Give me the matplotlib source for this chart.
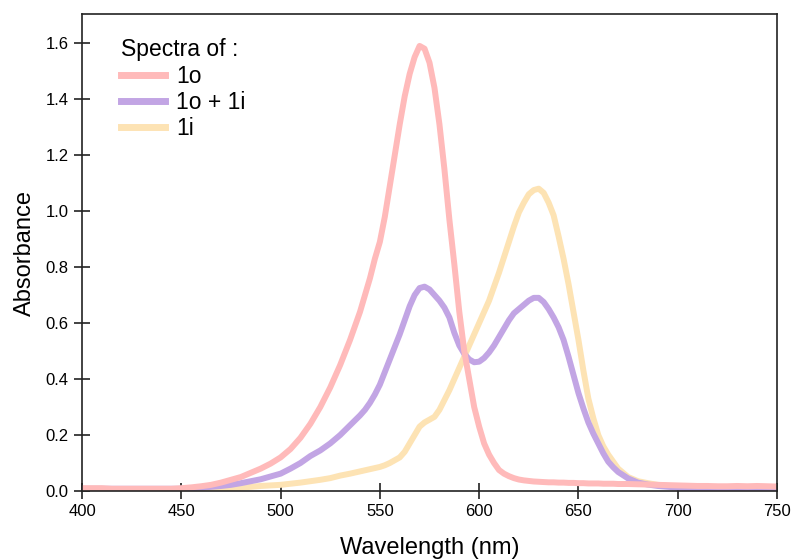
import matplotlib
matplotlib.use("Agg")
import matplotlib.pyplot as plt
import numpy as np

plt.rcParams['font.family'] = ['Liberation Sans', 'DejaVu Sans']

wavelength = (list(np.arange(400, 541, 5.0))
              + list(np.arange(542.5, 670.1, 2.5))
              + list(np.arange(675, 751, 5.0)))

abs_1o = [0.010, 0.010, 0.010, 0.008, 0.008, 0.008, 0.008, 0.008, 0.008, 0.008,
          0.010, 0.013, 0.017, 0.022, 0.030, 0.040, 0.050, 0.065, 0.080, 0.098,
          0.120, 0.150, 0.190, 0.240, 0.300, 0.370, 0.450, 0.540, 0.640,
          0.700, 0.760, 0.830, 0.890, 0.980, 1.090, 1.200, 1.310, 1.410, 1.490,
          1.550, 1.590, 1.580, 1.530, 1.440, 1.310, 1.150, 0.970, 0.810, 0.640,
          0.500, 0.400, 0.300, 0.230, 0.170, 0.130, 0.100, 0.075, 0.062, 0.053,
          0.046, 0.041, 0.038, 0.036, 0.034, 0.033, 0.032, 0.031, 0.031, 0.030,
          0.030, 0.029, 0.029, 0.028, 0.028, 0.027, 0.027, 0.027, 0.026, 0.026,
          0.026, 0.025,
          0.025, 0.024, 0.023, 0.022, 0.021, 0.020, 0.019, 0.018, 0.018, 0.017,
          0.017, 0.018, 0.017, 0.018, 0.017, 0.016]

abs_1o_1i = [0.008, 0.008, 0.008, 0.008, 0.008, 0.008, 0.008, 0.008, 0.008, 0.008,
             0.008, 0.010, 0.012, 0.015, 0.018, 0.022, 0.028, 0.035, 0.042, 0.052,
             0.062, 0.080, 0.100, 0.125, 0.145, 0.170, 0.200, 0.235, 0.270,
             0.290, 0.315, 0.345, 0.380, 0.425, 0.470, 0.515, 0.560, 0.610, 0.660,
             0.700, 0.725, 0.730, 0.720, 0.700, 0.680, 0.655, 0.620, 0.565, 0.520,
             0.490, 0.470, 0.460, 0.462, 0.475, 0.495, 0.520, 0.550, 0.580, 0.610,
             0.635, 0.650, 0.665, 0.680, 0.690, 0.690, 0.675, 0.650, 0.620, 0.585,
             0.540, 0.480, 0.415, 0.350, 0.295, 0.245, 0.205, 0.170, 0.135, 0.105,
             0.085, 0.068,
             0.045, 0.030, 0.023, 0.018, 0.015, 0.012, 0.010, 0.008, 0.007, 0.007,
             0.007, 0.008, 0.008, 0.010, 0.010, 0.010]

abs_1i = [0.006, 0.006, 0.006, 0.006, 0.006, 0.006, 0.006, 0.006, 0.006, 0.006,
          0.006, 0.006, 0.007, 0.008, 0.009, 0.010, 0.012, 0.015, 0.018, 0.020,
          0.022, 0.026, 0.030, 0.035, 0.040, 0.046, 0.055, 0.062, 0.070,
          0.074, 0.078, 0.082, 0.086, 0.092, 0.100, 0.110, 0.120, 0.140, 0.170,
          0.200, 0.230, 0.245, 0.255, 0.265, 0.290, 0.325, 0.360, 0.400, 0.440,
          0.480, 0.520, 0.560, 0.600, 0.640, 0.680, 0.730, 0.780, 0.835, 0.890,
          0.945, 0.995, 1.030, 1.060, 1.075, 1.080, 1.065, 1.030, 0.985, 0.910,
          0.830, 0.740, 0.640, 0.540, 0.430, 0.330, 0.260, 0.200, 0.160, 0.130,
          0.105, 0.080,
          0.050, 0.035, 0.028, 0.022, 0.018, 0.015, 0.012, 0.011, 0.010, 0.010,
          0.010, 0.010, 0.010, 0.010, 0.010, 0.010]

labels = ['1o', '1o + 1i', '1i']
colors = ['#ffbaba', '#c2a5e4', '#fde3b4']

fig = plt.figure(figsize=(7.91, 5.60), dpi=100)
ax = fig.add_axes([0.1037, 0.1232, 0.8786, 0.8518])

l3, = ax.plot(wavelength, abs_1i, color=colors[2], lw=4.3, solid_joinstyle='round')
l2, = ax.plot(wavelength, abs_1o_1i, color=colors[1], lw=4.3, solid_joinstyle='round')
l1, = ax.plot(wavelength, abs_1o, color=colors[0], lw=4.3, solid_joinstyle='round')

ax.set_xlim(400, 750)
ax.set_ylim(0, 1.704)
ax.set_xticks(range(400, 751, 50))
yt = np.arange(0, 1.61, 0.2)
ax.set_yticks(yt)
ax.set_yticklabels([f"{v:.1f}" for v in yt])
ax.tick_params(direction='inout', length=11, width=1.2, labelsize=12, color='#222222', pad=4)
for s in ax.spines.values():
    s.set_linewidth(1.2)
    s.set_color('#222222')

ax.set_xlabel('Wavelength (nm)', fontsize=17, labelpad=13)
ax.set_ylabel('Absorbance', fontsize=17, labelpad=7)

leg = ax.legend([l1, l2, l3], labels, title='Spectra of :', loc='upper left',
                bbox_to_anchor=(0.043, 0.968), frameon=False, fontsize=16.5,
                title_fontsize=16.5, handlelength=1.9, handletextpad=0.5,
                labelspacing=0.14, borderaxespad=0.0)
leg._legend_box.align = 'left'
for h in leg.legend_handles:
    h.set_linewidth(5)

fig.savefig('out.png', dpi=100)
